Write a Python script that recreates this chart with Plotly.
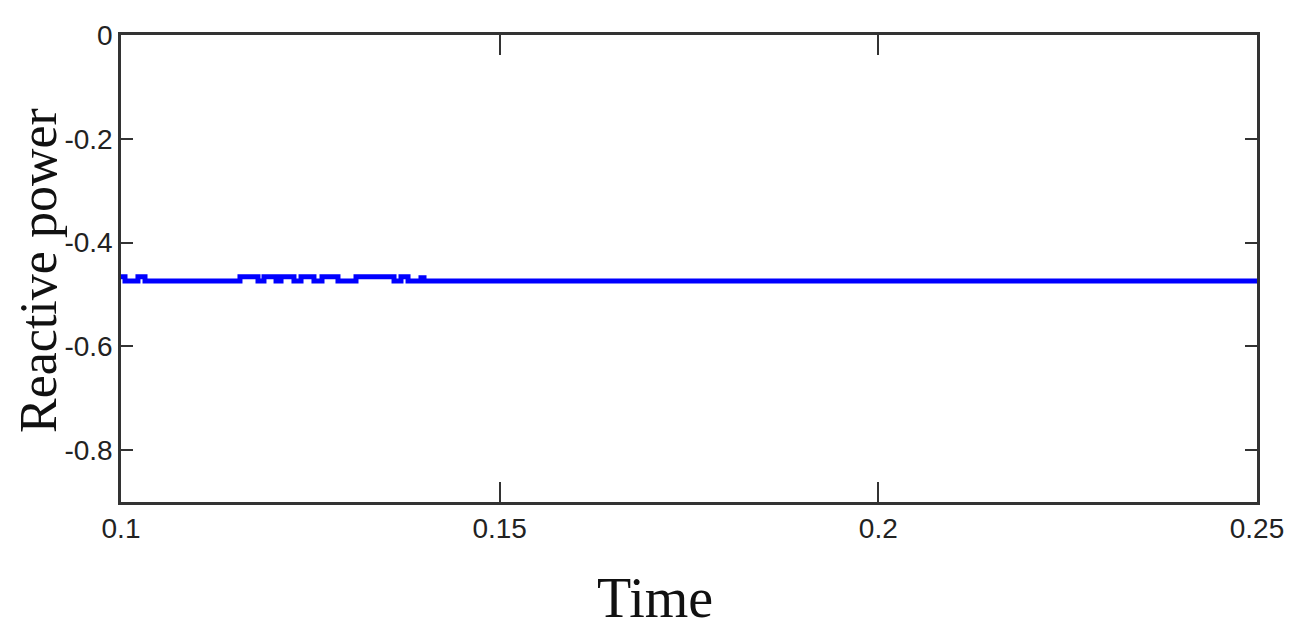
import plotly.graph_objects as go

# Step transitions of the reactive power signal (time, level)
time_s = [0.1, 0.10053, 0.10224, 0.10317, 0.11571, 0.11809, 0.11888, 0.12047,
          0.12113, 0.12284, 0.12377, 0.12548, 0.12654, 0.12865, 0.13103, 0.13605,
          0.13697, 0.13790, 0.13961, 0.14001, 0.25]
q_level = [-0.466, -0.474, -0.466, -0.474, -0.466, -0.474, -0.466, -0.474,
           -0.466, -0.474, -0.466, -0.474, -0.466, -0.474, -0.466, -0.474,
           -0.466, -0.474, -0.468, -0.474, -0.474]

x_ticks = [0.1, 0.15, 0.2, 0.25]
x_labels = ["0.1", "0.15", "0.2", "0.25"]
y_ticks = [0, -0.2, -0.4, -0.6, -0.8]
y_labels = ["0", "-0.2", "-0.4", "-0.6", "-0.8"]

tick_font = dict(family="Liberation Sans, Arial, sans-serif", size=28, color="#222")
title_family = "Liberation Serif, Times New Roman, serif"

# plot area in page pixels (for placing the axis-title annotations)
PL, PR, PT, PB = 121, 1257, 35, 502

fig = go.Figure()
fig.add_trace(go.Scatter(x=time_s, y=q_level, mode="lines",
                         line=dict(color="#0000FF", width=5, shape="hv"),
                         showlegend=False))

fig.update_layout(
    width=1295, height=642,
    margin=dict(l=113, r=46, t=27, b=148),
    paper_bgcolor="white", plot_bgcolor="white",
    xaxis=dict(range=[0.1, 0.25], tickvals=x_ticks, ticktext=x_labels,
               showgrid=False, zeroline=False, showline=True, mirror="ticks",
               linecolor="#333", linewidth=2.5, ticks="inside", ticklen=20,
               tickwidth=2, tickcolor="#333", tickfont=tick_font,
               ticklabelstandoff=0),
    yaxis=dict(range=[-0.9, 0], tickvals=y_ticks, ticktext=y_labels,
               showgrid=False, zeroline=False, showline=True, mirror="ticks",
               linecolor="#333", linewidth=2.5, ticks="inside", ticklen=12,
               tickwidth=2, tickcolor="#333", tickfont=tick_font,
               ticklabelstandoff=0),
    annotations=[
        dict(text="Time", xref="paper", yref="paper",
             x=(655 - PL) / (PR - PL), y=-0.205,
             xanchor="center", yanchor="middle", showarrow=False,
             font=dict(size=56, family=title_family, color="#111")),
        dict(text="Reactive power", xref="paper", yref="paper",
             x=(38 - PL) / (PR - PL), y=(PB - 271) / (PB - PT),
             xanchor="center", yanchor="middle", showarrow=False, textangle=-90,
             font=dict(size=52, family=title_family, color="#111")),
    ],
)

fig.write_html("out.html")
